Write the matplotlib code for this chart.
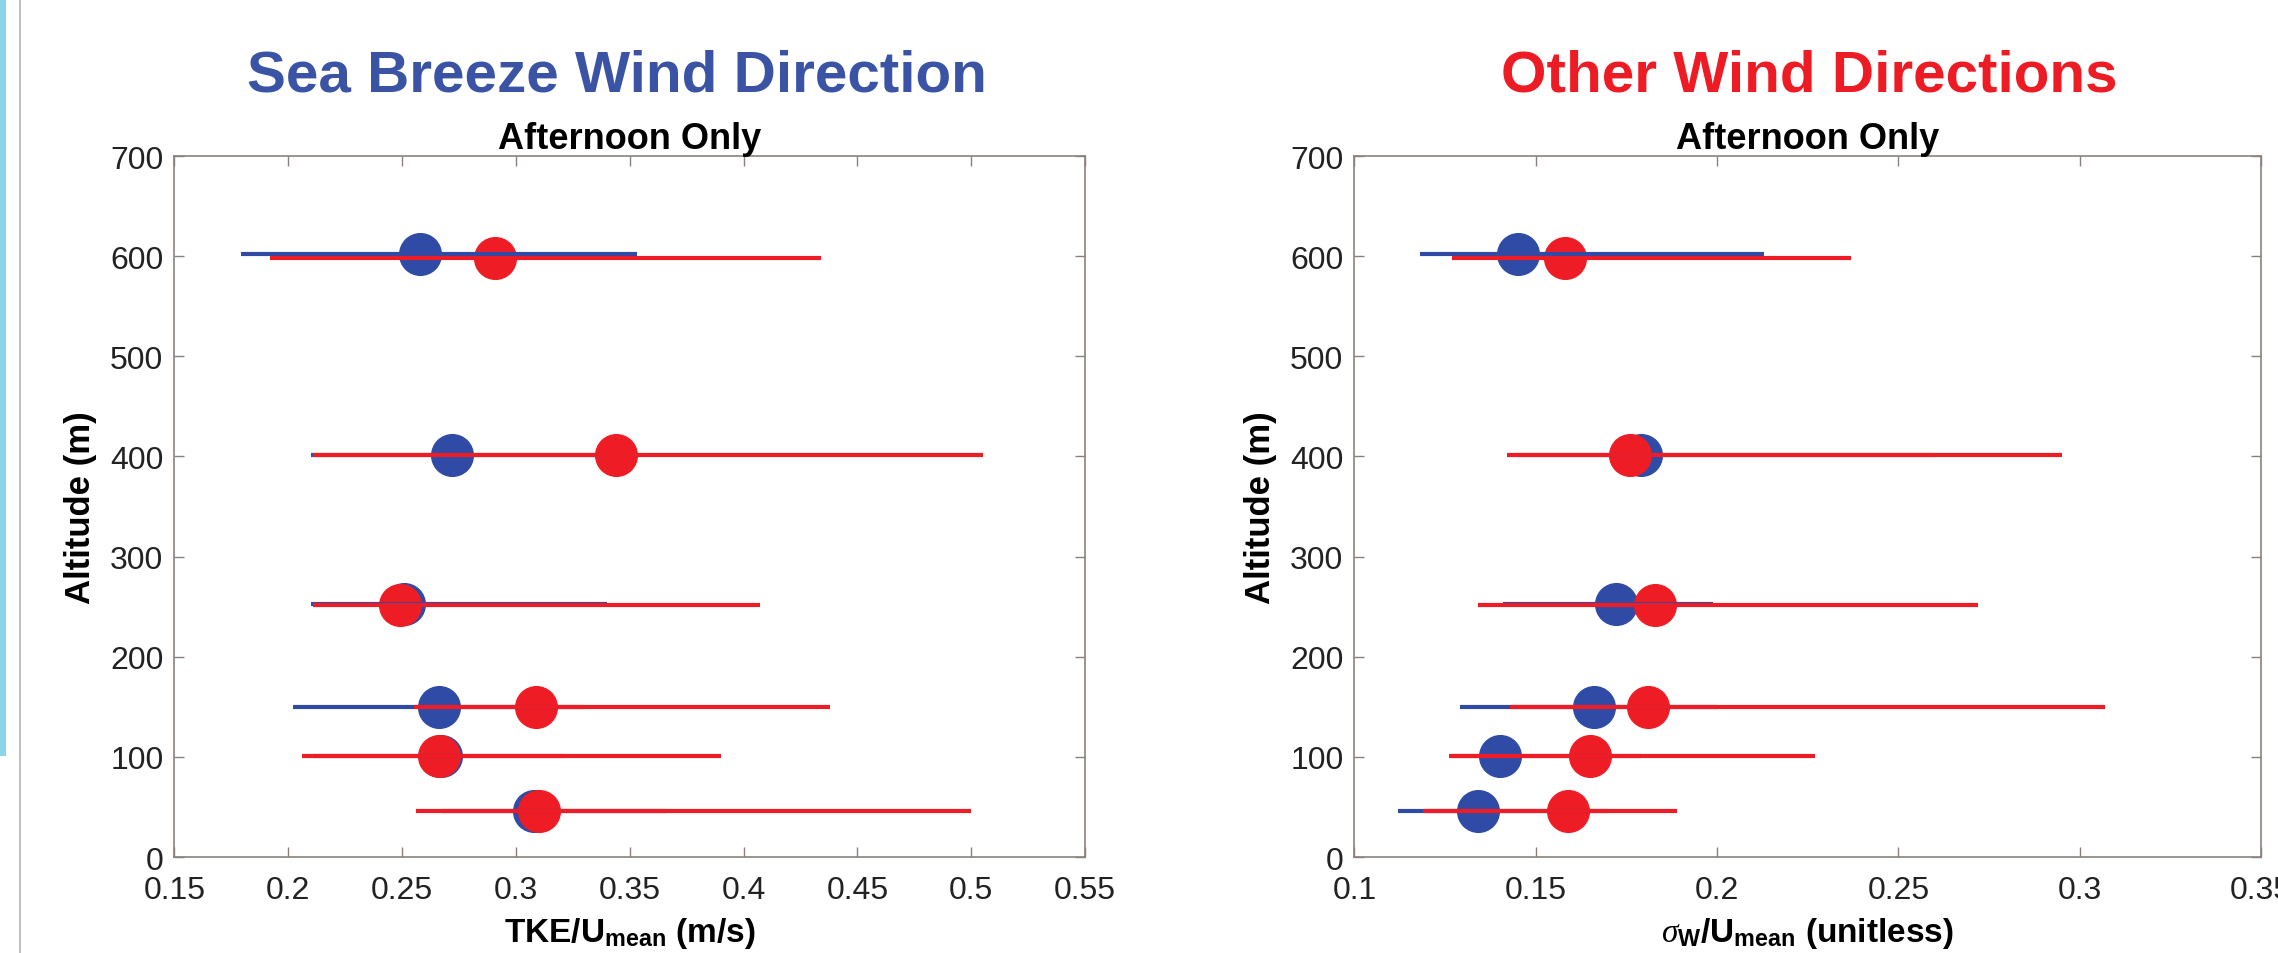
import matplotlib
matplotlib.use('Agg')
import matplotlib.pyplot as plt
from matplotlib.patches import Rectangle
from matplotlib.lines import Line2D

plt.rcParams['font.family'] = ['Liberation Sans', 'DejaVu Sans']
plt.rcParams['mathtext.fontset'] = 'custom'
plt.rcParams['mathtext.rm'] = 'Liberation Sans'
plt.rcParams['mathtext.bf'] = 'Liberation Sans:bold'
plt.rcParams['mathtext.it'] = 'Liberation Serif:italic'

# altitudes of the profile levels (m)
alt_blue = [46, 101, 150, 253, 401, 602]
alt_red = [46, 101, 150, 252, 401, 598]

# TKE / U_mean, sea breeze sector (blue) and other sectors (red)
tke_blue = [0.308, 0.267, 0.266, 0.251, 0.272, 0.258]
tke_blue_lo = [0.267, 0.211, 0.202, 0.210, 0.210, 0.179]
tke_blue_hi = [0.366, 0.322, 0.330, 0.340, 0.340, 0.353]
tke_red = [0.310, 0.266, 0.309, 0.249, 0.344, 0.291]
tke_red_lo = [0.256, 0.206, 0.255, 0.211, 0.211, 0.192]
tke_red_hi = [0.500, 0.390, 0.438, 0.407, 0.505, 0.434]

# sigma_w / U_mean
sw_blue = [0.134, 0.140, 0.166, 0.172, 0.179, 0.145]
sw_blue_lo = [0.112, 0.127, 0.129, 0.141, 0.145, 0.118]
sw_blue_hi = [0.170, 0.179, 0.200, 0.199, 0.260, 0.213]
sw_red = [0.159, 0.165, 0.181, 0.183, 0.176, 0.158]
sw_red_lo = [0.119, 0.126, 0.143, 0.134, 0.142, 0.127]
sw_red_hi = [0.189, 0.227, 0.307, 0.272, 0.295, 0.237]

tke_ticks = [0.15, 0.2, 0.25, 0.3, 0.35, 0.4, 0.45, 0.5, 0.55]
tke_ticklabels = ['0.15', '0.2', '0.25', '0.3', '0.35', '0.4', '0.45', '0.5', '0.55']
sw_ticks = [0.1, 0.15, 0.2, 0.25, 0.3, 0.35]
sw_ticklabels = ['0.1', '0.15', '0.2', '0.25', '0.3', '0.35']
alt_ticks = [0, 100, 200, 300, 400, 500, 600, 700]

BLUE = '#2f4ba6'
RED = '#ee1d25'
SPINE = '#8a817c'

fig = plt.figure(figsize=(22.78, 9.54), dpi=100)

# side strip and divider of the slide
fig.patches.append(Rectangle((0, 0.207), 6 / 2278, 0.793, transform=fig.transFigure,
                             facecolor='#8dd4ea', edgecolor='none'))
fig.lines.append(Line2D([19.5 / 2278, 19.5 / 2278], [0, 1], transform=fig.transFigure,
                        color='#b4b4b4', lw=1.2))


def profile(ax, xb, lob, hib, xr, lor, hir, xlim, ticks, ticklabels, xlabel):
    ax.plot(xb, alt_blue, 'o', ms=30, color=BLUE, mec=BLUE, zorder=3)
    ax.plot(xr, alt_red, 'o', ms=30, color=RED, mec=RED, zorder=4)
    ax.hlines(alt_blue, lob, hib, color=BLUE, lw=3, zorder=5)
    ax.hlines(alt_red, lor, hir, color=RED, lw=3, zorder=6)
    ax.set_xlim(xlim)
    ax.set_ylim(0, 700)
    ax.set_xticks(ticks)
    ax.set_xticklabels(ticklabels)
    ax.set_yticks(alt_ticks)
    ax.tick_params(direction='in', length=7, width=1, color=SPINE, top=True, right=True,
                   labelsize=23, labelcolor='#222222')
    ax.tick_params(axis='x', pad=13)
    ax.tick_params(axis='y', pad=8)
    for s in ax.spines.values():
        s.set_color(SPINE)
        s.set_linewidth(1.2)
    ax.set_title('Afternoon Only', fontsize=26, fontweight='bold', pad=6)
    ax.set_ylabel('Altitude (m)', fontsize=25, fontweight='bold')
    ax.yaxis.set_label_coords(-0.085, 0.5)
    ax.set_xlabel(xlabel, fontsize=24, fontweight='bold')
    ax.xaxis.set_label_coords(0.5, -0.083)


ax1 = fig.add_axes([0.0766, 0.1006, 0.3997, 0.7348])
profile(ax1, tke_blue, tke_blue_lo, tke_blue_hi, tke_red, tke_red_lo, tke_red_hi,
        (0.15, 0.55), tke_ticks, tke_ticklabels, r'TKE/U$_{\mathbf{mean}}$ (m/s)')

ax2 = fig.add_axes([0.5946, 0.1006, 0.3979, 0.7348])
profile(ax2, sw_blue, sw_blue_lo, sw_blue_hi, sw_red, sw_red_lo, sw_red_hi,
        (0.1, 0.35), sw_ticks, sw_ticklabels,
        r'$\sigma_{\mathbf{W}}$/U$_{\mathbf{mean}}$ (unitless)')

fig.text(617 / 2278, 1 - 92 / 954, 'Sea Breeze Wind Direction', ha='center', va='baseline',
         fontsize=42, fontweight='bold', color='#3a53a4')
fig.text(1809 / 2278, 1 - 92 / 954, 'Other Wind Directions', ha='center', va='baseline',
         fontsize=42, fontweight='bold', color='#ed1c24')

fig.savefig('out.png', dpi=100, facecolor='white')
